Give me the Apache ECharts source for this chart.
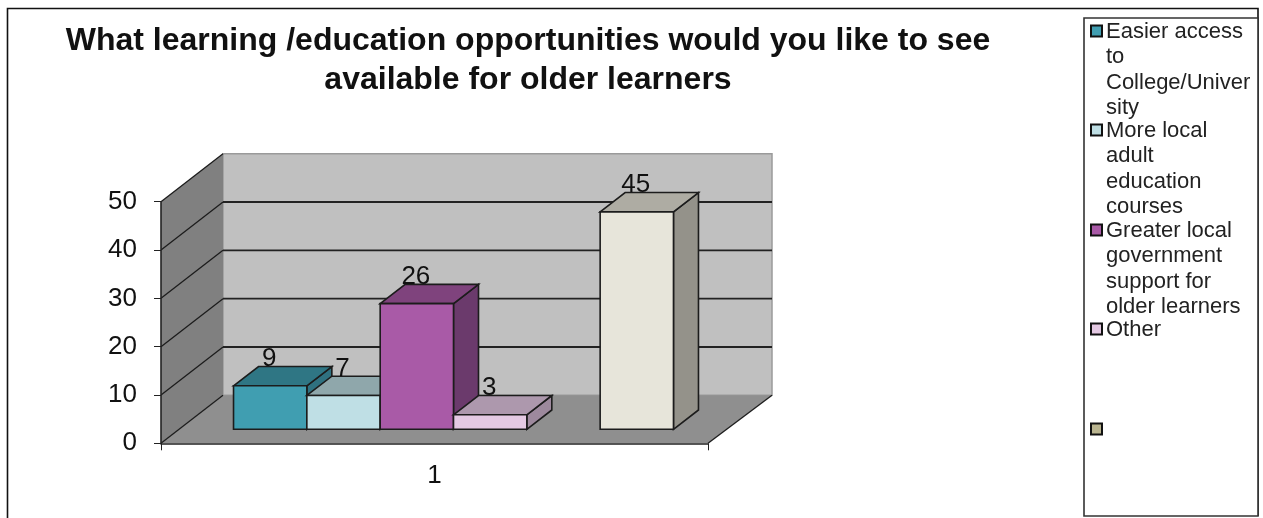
<!DOCTYPE html>
<html>
<head>
<meta charset="utf-8">
<style>html,body{margin:0;padding:0;background:#fff;overflow:hidden}#c{width:1263px;height:518px}</style>
<script src="https://cdn.jsdelivr.net/npm/echarts@6/dist/echarts.min.js"></script>
</head>
<body>
<div id="c"></div>
<script>
var categories = ['1'];
var titleLines = 'What learning /education opportunities would you like to see\navailable for older learners';
var seriesNames = [
  'Easier access to College/University',
  'More local adult education courses',
  'Greater local government support for older learners',
  'Other',
  '',
  ''
];
var seriesValues = [9, 7, 26, 3, null, 45];
var yTicks = [0, 10, 20, 30, 40, 50];
var legendLines = [
  ['Easier access', 'to', 'College/Univer', 'sity'],
  ['More local', 'adult', 'education', 'courses'],
  ['Greater local', 'government', 'support for', 'older learners'],
  ['Other'],
  ['']
];
var front = ['#409eb1', '#bfdfe5', '#a95aa7', '#e4c9e3', '#000000', '#e7e5da'];
var topC  = ['#2f7684', '#8fa7ab', '#7f437d', '#ad98ad', '#000000', '#aeaca3'];
var sideC = ['#2f7180', '#8fa7ab', '#6b3a6c', '#9d899d', '#000000', '#94928a'];
var legendSwatch = ['#409eb1', '#bfdfe5', '#a95aa7', '#e4c9e3', '#b9b48f'];
var legendY = [31, 130, 230, 329, 429];

var WALL_DX = 62, WALL_DY = -48;
var BAR_DX = 25, BAR_DY = -19.3;
var SHIFT_X = 19, SHIFT_Y = -14;
var EDGE = '#1c1c1c';

function poly(pts, fill, lw, stroke) {
  return { type: 'polygon', shape: { points: pts },
    style: { fill: fill, stroke: stroke || EDGE, lineWidth: lw === undefined ? 1.6 : lw } };
}

function renderWalls(params, api) {
  var o = api.coord([0, 0]), band = api.size([1, 0])[0];
  var x0 = o[0] - band / 2, x1 = o[0] + band / 2, y0 = o[1];
  var y50 = api.coord([0, 50])[1];
  var kids = [];
  kids.push(poly([[x0 + WALL_DX, y50 + WALL_DY], [x1 + WALL_DX + 2, y50 + WALL_DY], [x1 + WALL_DX + 2, y0 + WALL_DY], [x0 + WALL_DX, y0 + WALL_DY]], '#c0c0c0', 1.5, '#9a9a9a'));
  kids.push(poly([[x0, y50], [x0 + WALL_DX, y50 + WALL_DY], [x0 + WALL_DX, y0 + WALL_DY], [x0, y0]], '#808080', 0));
  kids.push(poly([[x0, y0], [x0 + WALL_DX, y0 + WALL_DY], [x1 + WALL_DX + 2, y0 + WALL_DY], [x1, y0]], '#8f8f8f', 0));
  yTicks.forEach(function (t) {
    var y = api.coord([0, t])[1];
    if (t !== 50 && t !== 0) {
      kids.push({ type: 'line', shape: { x1: x0 + WALL_DX, y1: y + WALL_DY, x2: x1 + WALL_DX + 2, y2: y + WALL_DY }, style: { stroke: '#222', lineWidth: 1.8 } });
    }
    kids.push({ type: 'line', shape: { x1: x0, y1: y, x2: x0 + WALL_DX, y2: y + WALL_DY }, style: { stroke: '#1c1c1c', lineWidth: 1.3 } });
  });
  kids.push({ type: 'line', shape: { x1: x1, y1: y0, x2: x1 + WALL_DX + 2, y2: y0 + WALL_DY }, style: { stroke: '#1c1c1c', lineWidth: 1.3 } });
  return { type: 'group', children: kids };
}

function makeBarRender(i) {
  return function (params, api) {
    var v = api.value(1);
    if (v === null || isNaN(v)) return null;
    var c = api.coord([0, 0]), t = api.coord([0, v]);
    var band = api.size([1, 0])[0];
    var w = band / 7.46;
    var xl = c[0] + SHIFT_X + (i - 3) * w, xr = xl + w;
    var yb = c[1] + SHIFT_Y, yt = t[1] + SHIFT_Y;
    return { type: 'group', children: [
      poly([[xr, yt], [xr + BAR_DX, yt + BAR_DY], [xr + BAR_DX, yb + BAR_DY], [xr, yb]], sideC[i]),
      poly([[xl, yt], [xl + BAR_DX, yt + BAR_DY], [xr + BAR_DX, yt + BAR_DY], [xr, yt]], topC[i]),
      poly([[xl, yb], [xl, yt], [xr, yt], [xr, yb]], front[i]),
      { type: 'text', z2: 50, style: { text: String(v), x: (xl + xr) / 2 - 1, y: yt - 27, align: 'center', verticalAlign: 'middle',
        font: '26px "Liberation Sans"', fill: '#111' } }
    ] };
  };
}

var series = [{
  type: 'custom', name: 'walls', silent: true, clip: false, z: 0,
  data: [[0, 0]], encode: { x: 0, y: 1 }, renderItem: renderWalls
}];
seriesValues.forEach(function (v, i) {
  if (v === null) return;
  series.push({
    type: 'custom', name: seriesNames[i] || 'blank', clip: false, z: 2 + i, silent: true,
    data: [[0, v]], encode: { x: 0, y: 1 }, renderItem: makeBarRender(i)
  });
});

var graphic = [
  { type: 'polyline', shape: { points: [[7.5, 518], [7.5, 8.5], [1258, 8.5], [1258, 516]] }, style: { fill: 'none', stroke: '#111', lineWidth: 1.6 }, silent: true, z: -1 },
  { type: 'rect', shape: { x: 1084, y: 18, width: 174, height: 498 }, style: { fill: '#fff', stroke: '#333', lineWidth: 1.6 }, silent: true }
];
legendLines.forEach(function (lines, i) {
  graphic.push({ type: 'rect', shape: { x: 1091, y: legendY[i] - 5.5, width: 11, height: 11 }, style: { fill: legendSwatch[i], stroke: '#111', lineWidth: 2 }, silent: true });
  lines.forEach(function (s, j) {
    graphic.push({ type: 'text', silent: true, style: { text: s, x: 1106, y: legendY[i] + 1 + j * 25.4, align: 'left', verticalAlign: 'middle', font: '22px "Liberation Sans"', fill: '#222' } });
  });
});

var chart = echarts.init(document.getElementById('c'), null, { renderer: 'canvas' });
chart.setOption({
  animation: false,
  backgroundColor: '#fff',
  title: {
    text: titleLines, left: 523, top: 17, textAlign: 'center',
    textStyle: { fontFamily: 'Liberation Sans', fontWeight: 'bold', fontSize: 32, lineHeight: 39, color: '#111' }
  },
  grid: { left: 161, top: 201.7, width: 547, height: 241.6, containLabel: false },
  xAxis: {
    type: 'category', data: categories,
    axisLine: { lineStyle: { color: '#222', width: 1.6 } },
    axisTick: { show: true, length: 7, lineStyle: { color: '#222' } },
    axisLabel: { margin: 20, fontFamily: 'Liberation Sans', fontSize: 26, color: '#111' },
    splitLine: { show: false }, z: 20
  },
  yAxis: {
    type: 'value', min: 0, max: 50, interval: 10,
    axisLine: { show: true, lineStyle: { color: '#222', width: 1.6 } },
    axisTick: { show: true, length: 7, lineStyle: { color: '#222' } },
    axisLabel: { margin: 24, padding: [2, 0, 0, 0], fontFamily: 'Liberation Sans', fontSize: 26, color: '#111' },
    splitLine: { show: false }, z: 20
  },
  graphic: graphic,
  series: series
});
</script>
</body>
</html>
